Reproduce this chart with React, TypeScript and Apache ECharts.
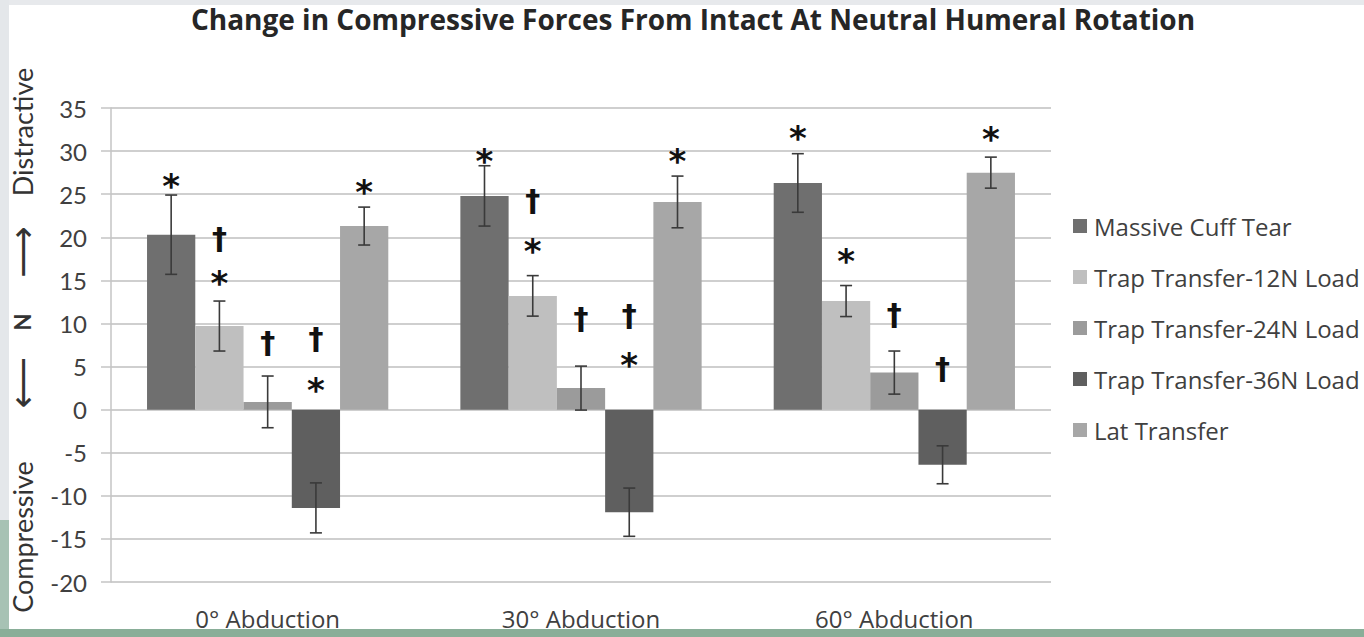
import React, { useEffect, useRef } from "react";
import * as echarts from "echarts";

const categories = ["0° Abduction", "30° Abduction", "60° Abduction"];
const seriesNames = [
  "Massive Cuff Tear",
  "Trap Transfer-12N Load",
  "Trap Transfer-24N Load",
  "Trap Transfer-36N Load",
  "Lat Transfer",
];
const massive = [20.3, 24.8, 26.3];
const massiveErr = [4.6, 3.5, 3.4];
const trap12 = [9.7, 13.2, 12.6];
const trap12Err = [2.9, 2.35, 1.8];
const trap24 = [0.9, 2.5, 4.3];
const trap24Err = [3.0, 2.55, 2.5];
const trap36 = [-11.4, -11.9, -6.4];
const trap36Err = [2.9, 2.8, 2.2];
const lat = [21.3, 24.1, 27.5];
const latErr = [2.2, 3.0, 1.8];

// significance marks: [category index, series index, height (N), symbol]
const marks: [number, number, number, string][] = [
  [0, 0, 27.0, "*"],
  [0, 1, 19.9, "†"],
  [0, 1, 15.7, "*"],
  [0, 2, 7.8, "†"],
  [0, 3, 8.2, "†"],
  [0, 3, 3.3, "*"],
  [0, 4, 26.3, "*"],
  [1, 0, 29.9, "*"],
  [1, 1, 24.3, "†"],
  [1, 1, 19.4, "*"],
  [1, 2, 10.6, "†"],
  [1, 3, 10.9, "†"],
  [1, 3, 6.2, "*"],
  [1, 4, 29.9, "*"],
  [2, 0, 32.6, "*"],
  [2, 1, 18.3, "*"],
  [2, 2, 11.0, "†"],
  [2, 3, 4.8, "†"],
  [2, 4, 32.4, "*"],
];

const colors = ["#6f6f6f", "#bfbfbf", "#9b9b9b", "#5f5f5f", "#a7a7a7"];
const FONT = "Lato, 'Open Sans', sans-serif";
const FONT2 = "'Open Sans', Lato, sans-serif";
const CAT_GAP = 0.23;

export default function App() {
  const ref = useRef<HTMLDivElement>(null);
  useEffect(() => {
    if (!ref.current) return;
    const chart = echarts.init(ref.current, null, { renderer: "svg" });
    const values = [massive, trap12, trap24, trap36, lat];
    const errs = [massiveErr, trap12Err, trap24Err, trap36Err, latErr];
    const errData: number[][] = [];
    values.forEach((vals, s) =>
      vals.forEach((v, c) => errData.push([c, v - errs[s][c], v + errs[s][c], s]))
    );
    const markData = marks.map((m) => [m[0], m[1], m[2], m[3]]);

    const barSeries = seriesNames.map((name, i) => ({
      name,
      type: "bar",
      data: values[i],
      itemStyle: { color: colors[i] },
      barGap: "0%",
      barCategoryGap: CAT_GAP * 100 + "%",
      z: 2,
    }));

    chart.setOption({
      animation: false,
      backgroundColor: "#ffffff",
      title: {
        text: "Change in Compressive Forces From Intact At Neutral Humeral Rotation",
        left: 688,
        textAlign: "center",
        top: 0,
        textStyle: { fontFamily: FONT2, fontWeight: "bold", fontSize: 28, color: "#262626" },
      },
      legend: {
        orient: "vertical",
        left: 1068,
        top: 209,
        itemWidth: 14,
        itemHeight: 14,
        itemGap: 27,
        icon: "rect",
        data: seriesNames,
        textStyle: { fontFamily: FONT2, fontSize: 24, color: "#404040", padding: [0, 0, 0, 2] },
      },
      grid: { left: 111, right: 313, top: 108, bottom: 55, containLabel: false },
      xAxis: {
        type: "category",
        data: categories,
        axisLine: { show: false },
        axisTick: { show: false },
        axisLabel: { fontFamily: FONT2, fontSize: 24, color: "#404040", margin: 24 },
      },
      yAxis: {
        type: "value",
        min: -20,
        max: 35,
        interval: 5,
        axisLine: { show: true, lineStyle: { color: "#c4c4c4", width: 1.5 } },
        axisTick: { show: true, length: 10, lineStyle: { color: "#c4c4c4", width: 1.5 } },
        splitLine: { lineStyle: { color: "#cfcfcf", width: 2 } },
        axisLabel: { fontFamily: FONT, fontSize: 24, color: "#404040", margin: 24 },
      },
      graphic: [
        { type: "rect", shape: { x: 0, y: 0, width: 1364, height: 5 }, style: { fill: "#e7e9ec" }, z: -10 },
        { type: "rect", shape: { x: 0, y: 0, width: 9, height: 520 }, style: { fill: "#e4e7ea" }, z: -10 },
        { type: "rect", shape: { x: 0, y: 520, width: 9, height: 117 }, style: { fill: "#a7c2b4" }, z: -10 },
        { type: "rect", shape: { x: 0, y: 629, width: 1364, height: 8 }, style: { fill: "#89ae98" }, z: -10 },
        {
          type: "text", x: 22, y: 537, rotation: Math.PI / 2,
          style: { text: "Compressive", fontFamily: FONT, fontSize: 27, fill: "#333", align: "center", verticalAlign: "middle" },
        },
        {
          type: "text", x: 22, y: 383, rotation: Math.PI / 2,
          style: { text: "⟵", fontFamily: "DejaVu Sans", fontSize: 36, fill: "#333", align: "center", verticalAlign: "middle" },
        },
        {
          type: "text", x: 22, y: 322, rotation: Math.PI / 2,
          style: { text: "N", fontFamily: FONT, fontWeight: "bold", fontSize: 22, fill: "#333", align: "center", verticalAlign: "middle" },
        },
        {
          type: "text", x: 22, y: 252, rotation: Math.PI / 2,
          style: { text: "⟶", fontFamily: "DejaVu Sans", fontSize: 36, fill: "#333", align: "center", verticalAlign: "middle" },
        },
        {
          type: "text", x: 22, y: 132, rotation: Math.PI / 2,
          style: { text: "Distractive", fontFamily: FONT, fontSize: 27, fill: "#333", align: "center", verticalAlign: "middle" },
        },
      ],
      series: [
        ...barSeries,
        {
          type: "custom",
          name: "err",
          data: errData,
          encode: { x: 0, y: [1, 2] },
          z: 5,
          renderItem: (params: any, api: any) => {
            const c = api.value(0);
            const lo = api.value(1);
            const hi = api.value(2);
            const s = api.value(3);
            const catW = api.size([1, 0])[0];
            const bw = (catW * (1 - CAT_GAP)) / 5;
            const x = api.coord([c, 0])[0] + (s - 2) * bw;
            const yl = api.coord([c, lo])[1];
            const yh = api.coord([c, hi])[1];
            const st = { stroke: "#3a3a3a", lineWidth: 1.6 };
            return {
              type: "group",
              children: [
                { type: "line", shape: { x1: x, y1: yl, x2: x, y2: yh }, style: st },
                { type: "line", shape: { x1: x - 6, y1: yl, x2: x + 6, y2: yl }, style: st },
                { type: "line", shape: { x1: x - 6, y1: yh, x2: x + 6, y2: yh }, style: st },
              ],
            };
          },
        },
        {
          type: "custom",
          name: "marks",
          data: markData,
          encode: { x: 0, y: 2 },
          z: 6,
          renderItem: (params: any, api: any) => {
            const c = api.value(0);
            const s = api.value(1);
            const h = api.value(2);
            const sym = markData[params.dataIndex][3] as string;
            const catW = api.size([1, 0])[0];
            const bw = (catW * (1 - CAT_GAP)) / 5;
            const x = api.coord([c, 0])[0] + (s - 2) * bw;
            const y = api.coord([c, h])[1];
            const isStar = sym === "*";
            return {
              type: "text",
              x,
              y: isStar ? y + 9 : y,
              style: {
                text: sym,
                fontFamily: "DejaVu Sans",
                fontWeight: "bold",
                fontSize: isStar ? 34 : 30,
                fill: "#111",
                align: "center",
                verticalAlign: "middle",
              },
            };
          },
        },
      ],
    });
    return () => chart.dispose();
  }, []);
  return (
    <div
      ref={ref}
      style={{ position: "fixed", left: 0, top: 0, width: 1364, height: 637, background: "#fff" }}
    />
  );
}
